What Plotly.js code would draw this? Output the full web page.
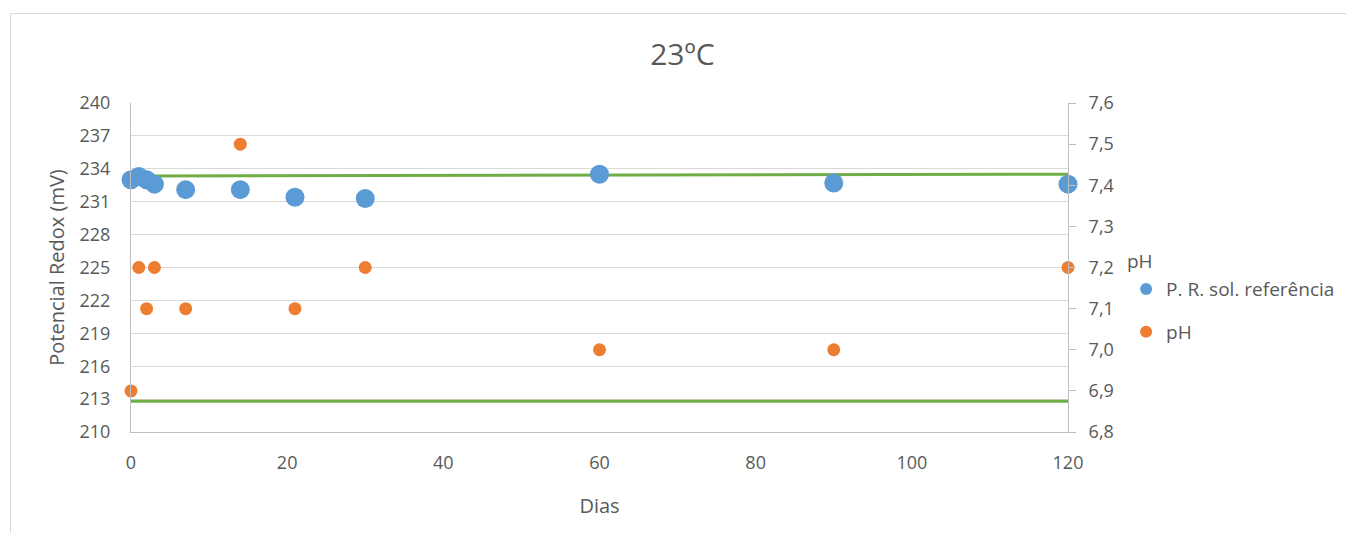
<!DOCTYPE html>
<html>
<head>
<meta charset="utf-8">
<script src="https://cdn.plot.ly/plotly-3.0.1.min.js"></script>
<style>
  html, body { margin: 0; padding: 0; background: #fff; }
  #wrap { position: relative; width: 1346px; height: 533px; overflow: hidden; }
  #frame { position: absolute; left: 10px; top: 13px; width: 1346px; height: 540px;
           border: 1px solid #d9d9d9; box-sizing: border-box; }
  #chart { position: absolute; left: 0; top: 0; width: 1346px; height: 533px; }
</style>
</head>
<body>
<div id="wrap">
  <div id="frame"></div>
  <div id="chart"></div>
</div>
<script>
// Days of measurement
const dias = [0, 1, 2, 3, 7, 14, 21, 30, 60, 90, 120];
// Redox potential of the reference solution (mV)
const redox = [233.0, 233.3, 233.0, 232.6, 232.1, 232.1, 231.4, 231.3, 233.5, 232.7, 232.6];
// pH readings
const ph = [6.9, 7.2, 7.1, 7.2, 7.1, 7.5, 7.1, 7.2, 7.0, 7.0, 7.2];
// Reference limit lines (mV)
const limSupX = [1, 120];
const limSupY = [233.35, 233.5];
const limInfX = [0, 120];
const limInfY = [212.8, 212.8];

const txt = '#595959';
const font = 'Open Sans, Noto Sans, sans-serif';

const traces = [
  { x: limSupX, y: limSupY, mode: 'lines', line: { color: '#70AD47', width: 3 },
    showlegend: false, hoverinfo: 'skip', cliponaxis: false },
  { x: limInfX, y: limInfY, mode: 'lines', line: { color: '#70AD47', width: 3 },
    showlegend: false, hoverinfo: 'skip', cliponaxis: false },
  { x: dias, y: redox, mode: 'markers', name: 'P. R. sol. referência',
    marker: { color: '#5B9BD5', size: 19 }, legendgroup: 'a', cliponaxis: false },
  { x: dias, y: ph, mode: 'markers', name: 'pH', yaxis: 'y2',
    marker: { color: '#ED7D31', size: 13 }, legendgroup: 'b', cliponaxis: false }
];

const layout = {
  width: 1346, height: 533,
  margin: { l: 131, r: 278, t: 103, b: 101, autoexpand: false },
  paper_bgcolor: 'rgba(0,0,0,0)',
  plot_bgcolor: 'rgba(0,0,0,0)',
  separators: ',.',
  font: { family: font, color: txt, size: 18 },
  title: { text: '23ºC', font: { size: 30, color: txt, family: font },
           x: 0.507, xanchor: 'center', y: 0.897, yanchor: 'middle' },
  xaxis: {
    range: [0, 120], dtick: 20, tick0: 0, showgrid: false, zeroline: false,
    showline: true, linecolor: '#bfbfbf', linewidth: 1, ticks: '',
    ticklabelstandoff: 14,
    tickfont: { size: 18, color: txt },
    title: { text: 'Dias', font: { size: 20, color: txt }, standoff: 26 }
  },
  yaxis: {
    range: [210, 240], dtick: 3, tick0: 210, showgrid: true, gridcolor: '#d9d9d9',
    zeroline: false, showline: true, linecolor: '#bfbfbf', ticks: '',
    ticklabelstandoff: 16,
    tickfont: { size: 18, color: txt },
    title: { text: 'Potencial Redox (mV)', font: { size: 20, color: txt }, standoff: 9 }
  },
  yaxis2: {
    range: [6.8, 7.6], dtick: 0.1, tick0: 6.8, tickformat: '.1f',
    overlaying: 'y', side: 'right', showgrid: false, zeroline: false,
    showline: true, linecolor: '#bfbfbf', ticks: 'outside', ticklen: 7,
    tickcolor: '#bfbfbf', ticklabelstandoff: 9, tickfont: { size: 18, color: txt }
  },
  legend: {
    x: 1.062, xanchor: 'left', y: 0.492, yanchor: 'top',
    font: { size: 19, color: txt }, traceorder: 'grouped', tracegroupgap: 15,
    itemsizing: 'constant', bgcolor: 'rgba(0,0,0,0)'
  },
  annotations: [
    { text: 'pH', xref: 'paper', yref: 'paper', x: 1.061, y: 0.52,
      xanchor: 'left', yanchor: 'middle', showarrow: false,
      font: { size: 19, color: txt } }
  ]
};

Plotly.newPlot('chart', traces, layout, { displayModeBar: false, staticPlot: true });
</script>
</body>
</html>
